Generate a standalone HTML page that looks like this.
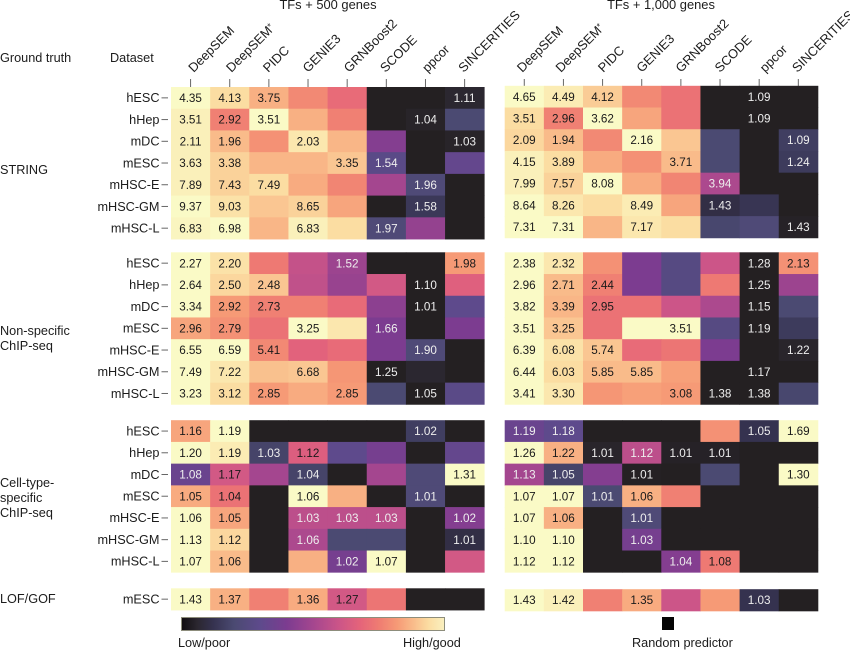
<!DOCTYPE html>
<html lang="en">
<head>
<meta charset="utf-8">
<title>GRN inference benchmark heatmap</title>
<style>
  html, body { margin: 0; padding: 0; background: #fff; }
  body { width: 850px; height: 650px; overflow: hidden; }
  svg { display: block; font-family: "Liberation Sans", Arial, sans-serif; fill: #1c1c1c; }
  .lbl { font-size: 12.7px; }
  .hdr { font-size: 12.9px; }
  .cell-text { font-size: 11.7px; text-anchor: middle; }
</style>
</head>
<body>
<svg id="chart" xmlns="http://www.w3.org/2000/svg" width="850" height="650" viewBox="0 0 850 650">
  <rect x="0" y="0" width="850" height="650" fill="#ffffff"/>
  <text class="hdr" x="328" y="9" text-anchor="middle">TFs + 500 genes</text>
  <text class="hdr" x="661" y="9" text-anchor="middle">TFs + 1,000 genes</text>
  <text class="lbl" x="0" y="62">Ground truth</text>
  <text class="lbl" x="110" y="62">Dataset</text>
  <text class="lbl" x="0" y="174">STRING</text>
  <text class="lbl" x="0" y="335"><tspan x="0">Non-specific</tspan><tspan x="0" dy="15">ChIP-seq</tspan></text>
  <text class="lbl" x="0" y="487"><tspan x="0">Cell-type-</tspan><tspan x="0" dy="15">specific</tspan><tspan x="0" dy="15">ChIP-seq</tspan></text>
  <text class="lbl" x="0" y="603">LOF/GOF</text>
  <defs><linearGradient id="legendGradient" x1="0" x2="1" y1="0" y2="0"></linearGradient></defs>
  <rect x="181.5" y="617.5" width="263" height="13" fill="url(#legendGradient)" stroke="#8d8d7c" stroke-width="1"/>
  <text class="lbl" x="178" y="647">Low/poor</text>
  <text class="lbl" x="403" y="647">High/good</text>
  <rect x="662" y="617" width="12" height="13" fill="#050505"/>
  <text class="lbl" x="632" y="647">Random predictor</text>
</svg>
<script>
const methods = ["DeepSEM", "DeepSEM*", "PIDC", "GENIE3", "GRNBoost2", "SCODE", "ppcor", "SINCERITIES"];
const datasets = ["hESC", "hHep", "mDC", "mESC", "mHSC-E", "mHSC-GM", "mHSC-L"];
const lofDatasets = ["mESC"];

/* Printed values (null = no number printed) */
const stringLabels500 = [
  ["4.35","4.13","3.75",null,null,null,null,"1.11"],
  ["3.51","2.92","3.51",null,null,null,"1.04",null],
  ["2.11","1.96",null,"2.03",null,null,null,"1.03"],
  ["3.63","3.38",null,null,"3.35","1.54",null,null],
  ["7.89","7.43","7.49",null,null,null,"1.96",null],
  ["9.37","9.03",null,"8.65",null,null,"1.58",null],
  ["6.83","6.98",null,"6.83",null,"1.97",null,null]
];
const stringLabels1000 = [
  ["4.65","4.49","4.12",null,null,null,"1.09",null],
  ["3.51","2.96","3.62",null,null,null,"1.09",null],
  ["2.09","1.94",null,"2.16",null,null,null,"1.09"],
  ["4.15","3.89",null,null,"3.71",null,null,"1.24"],
  ["7.99","7.57","8.08",null,null,"3.94",null,null],
  ["8.64","8.26",null,"8.49",null,"1.43",null,null],
  ["7.31","7.31",null,"7.17",null,null,null,"1.43"]
];
const nonSpecificLabels500 = [
  ["2.27","2.20",null,null,"1.52",null,null,"1.98"],
  ["2.64","2.50","2.48",null,null,null,"1.10",null],
  ["3.34","2.92","2.73",null,null,null,"1.01",null],
  ["2.96","2.79",null,"3.25",null,"1.66",null,null],
  ["6.55","6.59","5.41",null,null,null,"1.90",null],
  ["7.49","7.22",null,"6.68",null,"1.25",null,null],
  ["3.23","3.12","2.85",null,"2.85",null,"1.05",null]
];
const nonSpecificLabels1000 = [
  ["2.38","2.32",null,null,null,null,"1.28","2.13"],
  ["2.96","2.71","2.44",null,null,null,"1.25",null],
  ["3.82","3.39","2.95",null,null,null,"1.15",null],
  ["3.51","3.25",null,null,"3.51",null,"1.19",null],
  ["6.39","6.08","5.74",null,null,null,null,"1.22"],
  ["6.44","6.03","5.85","5.85",null,null,"1.17",null],
  ["3.41","3.30",null,null,"3.08","1.38","1.38",null]
];
const cellTypeLabels500 = [
  ["1.16","1.19",null,null,null,null,"1.02",null],
  ["1.20","1.19","1.03","1.12",null,null,null,null],
  ["1.08","1.17",null,"1.04",null,null,null,"1.31"],
  ["1.05","1.04",null,"1.06",null,null,"1.01",null],
  ["1.06","1.05",null,"1.03","1.03","1.03",null,"1.02"],
  ["1.13","1.12",null,"1.06",null,null,null,"1.01"],
  ["1.07","1.06",null,null,"1.02","1.07",null,null]
];
const cellTypeLabels1000 = [
  ["1.19","1.18",null,null,null,null,"1.05","1.69"],
  ["1.26","1.22","1.01","1.12","1.01","1.01",null,null],
  ["1.13","1.05",null,"1.01",null,null,null,"1.30"],
  ["1.07","1.07","1.01","1.06",null,null,null,null],
  ["1.07","1.06",null,"1.01",null,null,null,null],
  ["1.10","1.10",null,"1.03",null,null,null,null],
  ["1.12","1.12",null,null,"1.04","1.08",null,null]
];
const lofLabels500 = [["1.43","1.37",null,"1.36","1.27",null,null,null]];
const lofLabels1000 = [["1.43","1.42",null,"1.35",null,null,"1.03",null]];

/* Colour scores (0 = random predictor / poor, 100 = best) */
const stringScores500 = [
  [100,94,86,78,70,0,0,6],
  [98,76,100,86,76,0,3,20],
  [98,88,80,96,87,42,0,3],
  [98,92,87,87,90,28,0,32],
  [98,92,94,85,77,50,22,0],
  [100,95,90,92,84,0,14,0],
  [99,100,87,98,94,22,46,0]
];
const stringScores1000 = [
  [100,97,91,78,72,0,0,0],
  [94,76,100,84,72,0,0,0],
  [93,88,78,100,90,20,0,16],
  [98,94,85,80,88,20,0,15],
  [98,92,100,85,77,52,0,0],
  [100,96,94,97,84,10,13,0],
  [100,100,87,96,94,19,22,2]
];
const nonSpecificScores500 = [
  [100,95,74,58,48,0,0,82],
  [100,93,90,57,47,62,0,66],
  [100,82,76,76,70,44,0,30],
  [84,80,72,100,96,40,0,40],
  [100,100,78,67,70,40,22,0],
  [100,96,89,90,81,0,6,0],
  [100,94,82,85,82,20,0,28]
];
const nonSpecificScores1000 = [
  [100,96,80,40,26,60,0,80],
  [100,88,76,40,26,74,0,48],
  [100,87,72,72,60,52,0,20],
  [100,90,72,100,100,26,0,15],
  [100,95,90,70,73,40,0,4],
  [100,94,88,88,83,0,0,0],
  [100,96,81,83,82,0,0,19]
];
const cellTypeScores500 = [
  [84,100,0,0,0,0,16,0],
  [100,97,18,65,30,38,0,32],
  [34,62,50,18,0,50,22,100],
  [85,72,0,100,86,0,22,0],
  [100,84,0,56,56,56,0,42],
  [100,93,0,52,20,20,0,10],
  [100,88,0,86,38,100,0,62]
];
const cellTypeScores1000 = [
  [34,30,0,0,0,80,12,100],
  [100,86,4,56,2,2,0,0],
  [50,18,42,1,0,20,0,100],
  [100,100,20,86,76,0,0,0],
  [100,86,0,22,0,0,0,0],
  [100,100,0,38,0,0,0,0],
  [100,100,0,0,42,74,0,0]
];
const lofScores500 = [[100,86,76,85,62,73,0,0]];
const lofScores1000 = [[100,98,76,85,60,82,12,0]];

/* Layout */
const SVG_NS = "http://www.w3.org/2000/svg";
const svg = document.getElementById("chart");
const LEFT_X = 171, RIGHT_X = 504.7, COL_W = 39.15, ROW_H = 21.72;
const colorStops = [
  [0,"#242022"],[6,"#2b2730"],[12,"#35324f"],[20,"#4b4a72"],[30,"#5e4a8c"],[40,"#7c3c90"],
  [50,"#a4468f"],[60,"#cc5588"],[68,"#e5647a"],[75,"#ef7c72"],[82,"#f69a76"],[88,"#f9bb8a"],
  [94,"#fbdda2"],[100,"#fafac6"]
];

function hexToRgb(h) {
  return [parseInt(h.slice(1,3),16), parseInt(h.slice(3,5),16), parseInt(h.slice(5,7),16)];
}
function colorScale(v) {
  const t = Math.max(0, Math.min(100, v));
  for (let i = 1; i < colorStops.length; i++) {
    if (t <= colorStops[i][0]) {
      const a = colorStops[i-1], b = colorStops[i];
      const f = (t - a[0]) / (b[0] - a[0]);
      const ca = hexToRgb(a[1]), cb = hexToRgb(b[1]);
      return "rgb(" + ca.map((c, k) => Math.round(c + (cb[k] - c) * f)).join(",") + ")";
    }
  }
  return colorStops[colorStops.length-1][1];
}
function xScale(originX, colIndex) { return originX + colIndex * COL_W; }
function yScale(top, rowIndex) { return top + rowIndex * ROW_H; }
function mk(tag, attrs, text) {
  const el = document.createElementNS(SVG_NS, tag);
  for (const k in attrs) el.setAttribute(k, attrs[k]);
  if (text !== undefined) el.textContent = text;
  svg.appendChild(el);
  return el;
}
function slug(s) { return s.toLowerCase().replace(/[^a-z0-9]+/g, "-").replace(/-$/, ""); }

function drawPanel(panelName, originX, top, labels, scores) {
  scores.forEach((row, r) => {
    row.forEach((score, c) => {
      const rect = mk("rect", {
        x: xScale(originX, c), y: yScale(top, r),
        width: COL_W + 0.4, height: ROW_H + 0.4,
        fill: colorScale(score)
      });
      
      
    });
  });
  labels.forEach((row, r) => {
    row.forEach((value, c) => {
      if (value === null) return;
      const t = mk("text", {
        class: "cell-text",
        x: xScale(originX, c) + COL_W / 2,
        y: yScale(top, r) + ROW_H / 2 + 4.1,
        style: "fill:" + (scores[r][c] >= 60 ? "#1a1a1a" : "#eeeeee")
      }, value);
      
      
    });
  });
}

function drawRowLabels(names, top) {
  names.forEach((name, r) => {
    const cy = yScale(top, r) + ROW_H / 2;
    const t = mk("text", { class: "lbl", x: 159.5, y: cy + 4.3, "text-anchor": "end" }, name);
    
    
    const tick = mk("line", { x1: 161.5, x2: 168, y1: cy, y2: cy, stroke: "#666", "stroke-width": 1 });
    
    
  });
}

function drawColumnLabels(originX, prefix, nudge) {
  methods.forEach((m, c) => {
    const cx = xScale(originX, c) + COL_W / 2;
    const tick = mk("line", { x1: cx, x2: cx, y1: 79, y2: 87, stroke: "#666", "stroke-width": 1 });
    
    
    const ax = cx + nudge[c], ay = 73;
    const t = mk("text", { class: "hdr", x: ax, y: ay, transform: "rotate(-45 " + ax + " " + ay + ")" });
    
    
    if (m.endsWith("*")) {
      const base = document.createElementNS(SVG_NS, "tspan");
      base.textContent = m.slice(0, -1);
      const star = document.createElementNS(SVG_NS, "tspan");
      star.setAttribute("font-size", "9");
      star.setAttribute("dy", "-3");
      star.textContent = "*";
      t.appendChild(base);
      t.appendChild(star);
    } else {
      t.textContent = m;
    }
  });
}

drawColumnLabels(LEFT_X, "left-panel", [3, 1.7, -0.6, 0, 2, -1, 2, -1]);
drawColumnLabels(RIGHT_X, "right-panel", [-2, -2.6, 0.7, 0, 0, 0, 6, -1]);

drawPanel("string-500", LEFT_X, 87, stringLabels500, stringScores500);
drawPanel("string-1000", RIGHT_X, 85.8, stringLabels1000, stringScores1000);
drawPanel("nonspecific-500", LEFT_X, 252.3, nonSpecificLabels500, nonSpecificScores500);
drawPanel("nonspecific-1000", RIGHT_X, 252.3, nonSpecificLabels1000, nonSpecificScores1000);
drawPanel("celltype-500", LEFT_X, 420.2, cellTypeLabels500, cellTypeScores500);
drawPanel("celltype-1000", RIGHT_X, 420.2, cellTypeLabels1000, cellTypeScores1000);
drawPanel("lof-500", LEFT_X, 588.3, lofLabels500, lofScores500);
drawPanel("lof-1000", RIGHT_X, 589.2, lofLabels1000, lofScores1000);

drawRowLabels(datasets, 87);
drawRowLabels(datasets, 252.3);
drawRowLabels(datasets, 420.2);
drawRowLabels(lofDatasets, 588.3);

const grad = document.getElementById("legendGradient");
const legendStops = [[0,"#100d10"]].concat(colorStops.slice(1, -1)).concat([[100,"#faf0c0"]]);
legendStops.forEach(s => {
  const st = document.createElementNS(SVG_NS, "stop");
  st.setAttribute("offset", s[0] + "%");
  st.setAttribute("stop-color", s[1]);
  grad.appendChild(st);
});
</script>
</body>
</html>
